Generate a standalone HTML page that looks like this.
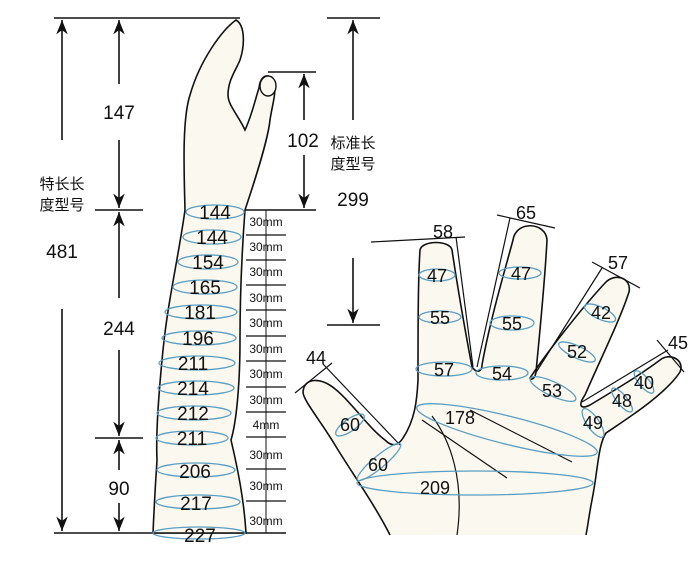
<!DOCTYPE html>
<html><head><meta charset="utf-8"><style>
html,body{margin:0;padding:0;background:#fff}
svg{display:block}
text{font-family:"Liberation Sans","Noto Sans CJK SC",sans-serif;fill:#111}
</style></head><body>
<svg width="700" height="566" viewBox="0 0 700 566" xmlns="http://www.w3.org/2000/svg">
<defs>
<marker id="a" viewBox="0 0 10 10" refX="10" refY="5" markerWidth="9" markerHeight="9" orient="auto-start-reverse"><path d="M0,1 L10,5 L0,9 L3,5z" fill="#111"/></marker>
</defs>
<g stroke="#111" stroke-width="1.6" fill="none">
<line x1="54" y1="18" x2="240" y2="18"/>
<line x1="62" y1="140" x2="62" y2="20" marker-end="url(#a)"/>
<line x1="62" y1="309" x2="62" y2="531" marker-end="url(#a)"/>
<line x1="119" y1="84" x2="119" y2="20" marker-end="url(#a)"/>
<line x1="119" y1="140" x2="119" y2="208" marker-end="url(#a)"/>
<line x1="95" y1="210" x2="143" y2="210"/>
<line x1="119" y1="298" x2="119" y2="212" marker-end="url(#a)"/>
<line x1="119" y1="350" x2="119" y2="436" marker-end="url(#a)"/>
<line x1="95" y1="438" x2="143" y2="438"/>
<line x1="119" y1="470" x2="119" y2="440" marker-end="url(#a)"/>
<line x1="119" y1="503" x2="119" y2="531" marker-end="url(#a)"/>
<line x1="54" y1="533" x2="286" y2="533"/>
<line x1="268" y1="72" x2="316" y2="72"/>
<line x1="245" y1="210" x2="316" y2="210"/>
<line x1="304" y1="120" x2="304" y2="74" marker-end="url(#a)"/>
<line x1="304" y1="155" x2="304" y2="208" marker-end="url(#a)"/>
<line x1="327" y1="18" x2="380" y2="18"/>
<line x1="353" y1="120" x2="353" y2="20" marker-end="url(#a)"/>
<line x1="353" y1="258" x2="353" y2="323" marker-end="url(#a)"/>
<line x1="327" y1="325" x2="380" y2="325"/>
<line x1="266" y1="210" x2="266" y2="533" stroke-width="1"/>
</g>
<g stroke="#111" stroke-width="1.3">
<line x1="246" y1="235" x2="286" y2="235"/><line x1="246" y1="260" x2="286" y2="260"/>
<line x1="246" y1="285" x2="286" y2="285"/><line x1="246" y1="310" x2="286" y2="310"/>
<line x1="246" y1="336" x2="286" y2="336"/><line x1="246" y1="361" x2="286" y2="361"/>
<line x1="246" y1="387" x2="286" y2="387"/><line x1="246" y1="412" x2="286" y2="412"/>
<line x1="246" y1="437" x2="286" y2="437"/><line x1="246" y1="469" x2="286" y2="469"/>
<line x1="246" y1="501" x2="286" y2="501"/>
</g>
<path d="M236,20 C222,30 200,60 190,95 C182,120 184,170 185,210 C178,260 168,300 163,350 C158,400 156,440 157,460 C155,490 154,510 153,533 L246,533 C244,500 238,470 231,440 C237,420 240,380 240,340 C240,300 242,250 245,210 C255,180 268,140 270,120 C273,100 278,90 272,78 C265,73 260,78 259,88 C255,100 252,115 245,130 C238,115 228,105 228,95 C228,80 236,70 240,60 C245,45 245,25 236,20 Z" fill="#fbf8ef" stroke="#111" stroke-width="1.6"/>
<ellipse cx="268" cy="86" rx="8" ry="10" fill="#fbf8ef" stroke="#111" stroke-width="1.4"/>
<g fill="none" stroke="#5a9ec2" stroke-width="1.3">
<ellipse cx="215" cy="212" rx="29" ry="7"/><ellipse cx="212" cy="237" rx="29" ry="7"/>
<ellipse cx="208" cy="262" rx="30" ry="7"/><ellipse cx="205" cy="287" rx="32" ry="7"/>
<ellipse cx="201" cy="312" rx="36" ry="7"/><ellipse cx="199" cy="338" rx="37" ry="7"/>
<ellipse cx="197" cy="363" rx="38" ry="7"/><ellipse cx="196" cy="388" rx="38" ry="7"/>
<ellipse cx="194" cy="413" rx="37" ry="7"/><ellipse cx="192" cy="438" rx="36" ry="7"/>
<ellipse cx="196" cy="470" rx="39" ry="7"/><ellipse cx="198" cy="502" rx="42" ry="7"/>
<ellipse cx="199" cy="533" rx="46" ry="6"/>
</g>
<g font-size="19" text-anchor="middle">
<text x="215" y="219">144</text><text x="212" y="244">144</text><text x="208" y="269">154</text>
<text x="205" y="294">165</text><text x="200" y="319">181</text><text x="198" y="345">196</text>
<text x="193" y="370">211</text><text x="193" y="395">214</text><text x="193" y="420">212</text>
<text x="192" y="445">211</text><text x="195" y="478">206</text><text x="196" y="510">217</text>
<text x="200" y="542">227</text>
</g>
<g font-size="12" text-anchor="middle">
<text x="266" y="226">30mm</text><text x="266" y="251">30mm</text><text x="266" y="276">30mm</text>
<text x="266" y="302">30mm</text><text x="266" y="327">30mm</text><text x="266" y="353">30mm</text>
<text x="266" y="378">30mm</text><text x="266" y="404">30mm</text><text x="266" y="429">4mm</text>
<text x="266" y="459">30mm</text><text x="266" y="490">30mm</text><text x="266" y="525">30mm</text>
</g>
<g font-size="19" text-anchor="middle">
<text x="119" y="119">147</text><text x="62" y="258">481</text><text x="119" y="335">244</text>
<text x="119" y="495">90</text><text x="303" y="147">102</text><text x="353" y="206">299</text>
</g>
<g font-size="15" text-anchor="middle">
<text x="62" y="189">特长长</text><text x="62" y="210">度型号</text>
<text x="353" y="148">标准长</text><text x="353" y="169">度型号</text>
</g>
<path d="M390,535 C375,505 350,470 335,445 C320,420 303,400 303,392 C304,380 315,378 326,383 C345,392 365,425 385,440 C392,447 398,446 403,438 C415,420 417,400 418,380 C418,330 418,280 420,250 C422,240 450,240 452,250 C458,290 465,330 472,367 C478,375 482,370 482,365 C490,320 505,270 513,240 C516,220 546,222 547,240 C545,280 540,330 536,372 C535,380 530,380 530,378 C545,355 580,310 605,283 C615,272 632,278 629,292 C620,320 600,360 585,395 C578,405 580,410 590,405 C615,390 640,375 660,360 C670,352 685,360 680,372 C665,395 625,420 606,433 C598,445 598,470 592,500 C589,515 588,525 586,535" fill="#fbf8ef" stroke="#111" stroke-width="1.6"/>
<g stroke="#111" stroke-width="1.2" fill="none">
<path d="M422,420 L507,478"/><path d="M432,416 C450,440 465,480 457,535"/><path d="M470,410 L572,462"/>
<line x1="371" y1="242" x2="465" y2="237"/><line x1="456" y1="237" x2="473" y2="367"/>
<line x1="497" y1="215" x2="555" y2="228"/><line x1="510" y1="218" x2="477" y2="367"/>
<line x1="592" y1="262" x2="640" y2="288"/><line x1="602" y1="268" x2="535" y2="374"/>
<line x1="657" y1="340" x2="684" y2="372"/><line x1="668" y1="350" x2="582" y2="402"/>
<line x1="295" y1="393" x2="332" y2="363"/><line x1="323" y1="364" x2="400" y2="445"/>
</g>
<g fill="none" stroke="#5a9ec2" stroke-width="1.3">
<ellipse cx="437" cy="275" rx="18" ry="6"/><ellipse cx="440" cy="317" rx="21" ry="6"/>
<ellipse cx="444" cy="369" rx="28" ry="7"/><ellipse cx="520" cy="273" rx="21" ry="6"/>
<ellipse cx="512" cy="323" rx="22" ry="7"/><ellipse cx="502" cy="373" rx="26" ry="7"/>
<ellipse cx="553" cy="389" rx="25" ry="7" transform="rotate(25 553 389)"/>
<ellipse cx="600" cy="313" rx="17" ry="6" transform="rotate(25 600 313)"/>
<ellipse cx="577" cy="352" rx="20" ry="6" transform="rotate(25 577 352)"/>
<ellipse cx="644" cy="382" rx="14" ry="5" transform="rotate(50 644 382)"/>
<ellipse cx="622" cy="400" rx="15" ry="5" transform="rotate(50 622 400)"/>
<ellipse cx="593" cy="423" rx="17" ry="6" transform="rotate(55 593 423)"/>
<ellipse cx="350" cy="425" rx="17" ry="6" transform="rotate(-35 350 425)"/>
<ellipse cx="379" cy="462" rx="28" ry="6" transform="rotate(-40 379 462)"/>
<ellipse cx="507" cy="430" rx="93" ry="14" transform="rotate(14 507 430)"/>
<ellipse cx="475" cy="483" rx="118" ry="12"/>
</g>
<g font-size="18" text-anchor="middle">
<text x="443" y="238">58</text><text x="526" y="219">65</text><text x="618" y="269">57</text>
<text x="678" y="349">45</text><text x="316" y="364">44</text>
<text x="437" y="282">47</text><text x="440" y="324">55</text><text x="444" y="376">57</text>
<text x="521" y="280">47</text><text x="512" y="330">55</text><text x="502" y="380">54</text>
<text x="552" y="397">53</text><text x="601" y="319">42</text><text x="577" y="358">52</text>
<text x="644" y="389">40</text><text x="622" y="407">48</text><text x="593" y="429">49</text>
<text x="350" y="431">60</text><text x="378" y="471">60</text><text x="460" y="424">178</text>
<text x="435" y="494">209</text>
</g>
</svg>
</body></html>
